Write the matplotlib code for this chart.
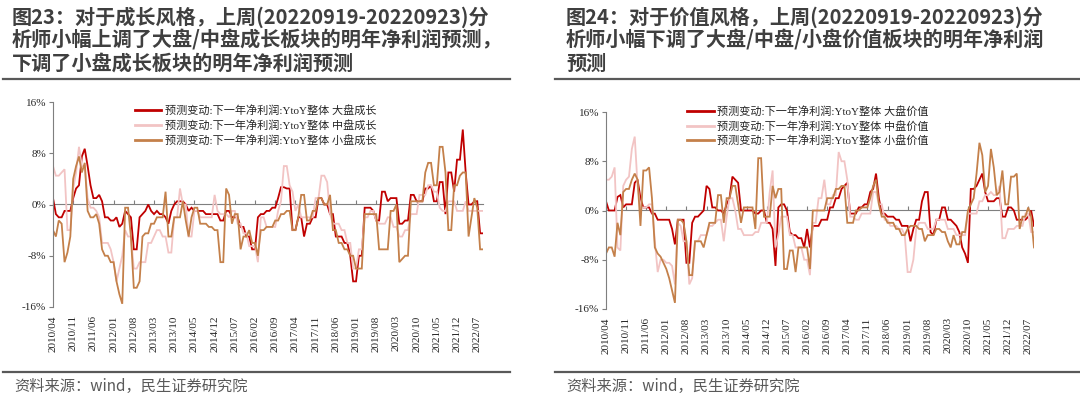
import numpy as np
import matplotlib
matplotlib.use('Agg')
import matplotlib.pyplot as plt
from matplotlib.lines import Line2D
from matplotlib.ticker import FuncFormatter

# ---------------- data ----------------
dates = [f"{2010 + (3 + i) // 12}/{(3 + i) % 12 + 1:02d}" for i in range(150)]  # 2010/04 .. 2022/09
tick_labels = ['2010/04', '2010/11', '2011/06', '2012/01', '2012/08', '2013/03', '2013/10',
               '2014/05', '2014/12', '2015/07', '2016/02', '2016/09', '2017/04', '2017/11',
               '2018/06', '2019/01', '2019/08', '2020/03', '2020/10', '2021/05', '2021/12', '2022/07']

growth_labels = ['预测变动:下一年净利润:YtoY整体 大盘成长',
                 '预测变动:下一年净利润:YtoY整体 中盘成长',
                 '预测变动:下一年净利润:YtoY整体 小盘成长']
value_labels = ['预测变动:下一年净利润:YtoY整体 大盘价值',
                '预测变动:下一年净利润:YtoY整体 中盘价值',
                '预测变动:下一年净利润:YtoY整体 小盘价值']

large_growth = [
    1.0, -1.5, -2.0, -2.0, -1.0, -1.0, -1.0, 1.0, 2.5, 3.0,
    7.5, 8.7, 6.0, 3.0, 1.0, 1.0, 1.5, 0.5, -2.0, -2.0,
    -2.5, -2.5, -2.0, -3.5, -3.0, -1.0, -1.5, -2.0, -7.0, -7.0,
    -2.0, -1.5, -1.0, 0.0, -1.0, -1.5, -1.0, -1.5, -1.5, -2.0,
    -3.0, -1.0, 0.0, 0.5, 0.5, 0.5, 0.0, -1.0, -0.5, -1.0,
    -1.0, -1.0, -1.0, -1.5, -1.5, -1.5, -1.5, -1.5, -2.5, -2.5,
    -1.0, -1.0, -2.0, -2.0, -2.0, -3.5, -3.5, -5.0, -5.0, -7.0,
    -7.0, -2.0, -1.5, -1.5, -1.0, -1.0, -0.5, -0.5, 1.0, 2.7,
    2.7, 2.5, 2.5, -4.0, -4.0, -2.0, -2.0, -5.0, -3.0, -3.0,
    -2.0, -2.0, 1.0, 1.0, 0.0, 0.0, -1.5, -1.5, -5.0, -5.0,
    -5.0, -6.0, -6.0, -8.0, -12.0, -12.0, -8.0, -8.0, -0.5, -0.5,
    -0.5, -1.0, -2.5, -2.5, 2.0, 2.0, 0.5, 1.0, 1.0, 1.0,
    -3.0, -3.0, -2.5, -2.5, 1.5, 1.5, 0.5, 0.5, 0.5, 2.5,
    2.5, 3.0, 0.5, 0.5, 3.5, 3.5, -1.5, 5.0, 5.0, 2.0,
    7.0, 7.0, 11.7, 5.0, 0.0, 0.0, 0.5, 0.5, -4.5, -4.5]

mid_growth = [
    6.0, 4.5, 4.5, 5.0, 5.5, -4.0, -4.0, 2.5, 5.0, 9.0,
    6.0, 6.0, 1.0, -0.5, -0.5, -1.0, -2.0, -6.0, -6.0, -6.0,
    -7.0, -9.0, -12.0, -10.0, -8.0, -4.0, -5.0, -5.0, -10.0, -10.0,
    -9.0, -9.0, -9.0, -6.0, -6.0, -5.0, -4.0, -4.0, -5.0, -5.0,
    -7.5, -7.5, -2.0, -2.0, 2.5, 0.0, 0.0, -5.0, -5.0, -1.0,
    -1.0, -2.0, -2.0, -2.0, -2.0, -2.0, 1.5, -1.0, -1.5, -1.5,
    -1.5, -2.0, -1.0, -1.0, -3.0, -3.0, -4.5, -4.5, -6.5, -6.5,
    -6.5, -9.0, -2.0, -2.0, -3.5, -3.5, -3.5, -3.5, -1.0, 0.5,
    6.0, 6.0, 3.0, 2.0, -1.0, 0.0, -2.0, -2.0, -2.0, -2.0,
    -2.0, 1.0, 1.0, 4.5, 4.5, 3.5, -1.5, -3.0, -3.0, -3.0,
    -4.0, -4.0, -6.0, -6.0, -10.0, -10.0, -7.0, -7.0, -2.0, -2.0,
    -1.0, -1.0, -2.5, -3.0, -3.0, -3.0, -2.0, -2.0, -3.5, -3.5,
    -5.0, -5.0, -4.0, -4.0, -1.5, -1.5, -1.5, 1.5, 1.5, 1.5,
    3.0, 3.0, 2.0, 2.0, -0.5, -1.0, -1.0, 0.5, 0.5, 0.5,
    -1.0, -1.0, -1.0, 0.5, -1.0, -1.0, -1.0, -1.0, -1.0, -1.0]

small_growth = [
    -4.0, -5.0, -2.5, -3.0, -9.0, -7.5, -5.0, 4.0, 6.0, 7.5,
    5.0, 6.5, -1.0, -2.0, -2.0, -1.5, -3.0, -7.0, -8.0, -8.0,
    -9.0, -9.0, -12.0, -14.0, -15.5, -0.5, -0.5, -5.0, -13.0, -13.0,
    -12.0, -5.0, -4.5, -4.5, -3.0, -3.0, -2.0, -2.0, -2.0, 2.0,
    -5.0, -5.0, -2.0, -2.0, -2.0, 0.5, -2.5, -5.0, -2.0, -0.5,
    -0.5, -3.0, -3.0, -3.0, -3.5, -3.5, -4.0, -4.0, -9.0, -9.0,
    2.5, 1.5, -3.0, -1.5, -1.5, -7.0, -5.0, -5.0, -4.0, -6.0,
    -6.0, -8.0, -4.0, -4.0, -3.5, -3.5, -3.5, -2.5, -2.5, -1.5,
    -1.5, -1.0, -1.0, -4.0, -4.0, -2.0, 1.5, 1.5, -2.5, -2.5,
    -1.0, -1.0, 1.0, 1.0, 0.0, 0.0, 1.5, -4.0, -4.0, -6.0,
    -6.0, -7.0, -7.0, -8.0, -8.0, -10.0, -10.0, -10.0, -1.5, -1.5,
    -1.5, -1.5, -1.5, -7.0, -7.0, -7.0, -7.0, -1.0, -1.0, 0.0,
    -9.0, -8.5, -8.0, -8.0, 0.5, 0.5, 0.5, 0.5, 0.5, 5.0,
    6.5, 6.5, 3.0, 3.0, 9.0, 9.0, 5.0, -4.0, -4.0, 3.0,
    3.0, 4.5, 5.0, 5.0, -5.0, -2.0, 1.0, -0.5, -7.0, -7.0]

large_value = [
    1.5, 0.0, 0.0, 0.0, 2.2, 2.5, 0.5, 1.0, 1.0, 1.0,
    4.5, 5.0, 2.0, 0.5, 0.5, 0.5, -0.5, -0.5, -1.5, -1.5,
    -1.5, -1.5, -1.5, -3.0, -5.5, -1.5, -1.5, -1.5, -8.5, -8.5,
    -2.0, -1.0, -1.0, -0.5, 0.0, 4.0, 3.5, 0.5, 0.5, 0.0,
    0.0, -0.5, 1.0, 2.0, 5.5, 5.0, 4.5, 0.0, 0.0, 0.0,
    0.0, 0.0, -0.5, -0.5, 0.0, 0.0, -2.0, -2.0, -3.0, -9.0,
    0.5, 1.0, 1.0, 0.0, -3.5, -4.0, -4.0, -4.5, -4.5, -6.0,
    -3.0, -6.0, -2.5, -2.5, -2.5, -1.5, -1.5, -1.5, 0.5, 0.5,
    2.0, 2.0, 3.5, 4.0, 4.5, -0.5, -0.5, -0.5, 0.5, 0.5,
    1.0, 1.0, 3.0, 3.5, 6.0, 2.0, -0.5, -0.5, -1.0, -1.0,
    -1.0, -1.5, -1.5, -2.5, -2.5, -2.5, -5.0, -3.0, -1.5, -1.5,
    1.5, 3.0, 3.0, -3.5, -4.0, -1.5, -1.5, 0.5, 0.5, -1.5,
    -1.5, -2.0, -2.5, -3.5, -6.0, -7.0, -8.5, 3.5, 3.5, 4.0,
    5.0, 6.0, 3.0, 1.5, 1.5, 1.5, 2.0, 2.0, -1.0, -1.0,
    0.5, 0.5, 0.0, -1.5, -1.5, -1.5, -1.5, -1.0, 0.0, -2.5]

mid_value = [
    5.0, 5.0, 5.5, 7.0, -6.0, -6.5, 4.0, 5.0, 5.5, 10.0,
    12.0, 4.0, 0.5, 0.5, 0.5, 1.0, 1.0, -5.0, -10.0, -8.0,
    -8.0, -8.5, -8.5, -9.0, -12.0, -2.0, -2.5, -5.0, -5.0, -12.0,
    -11.0, -5.0, -5.0, -4.0, -4.0, -4.0, -2.5, -2.5, -2.0, -1.5,
    -1.5, -5.0, -1.0, 2.0, 2.0, 0.0, -3.0, -3.0, -4.0, -4.0,
    -4.0, -4.0, -3.5, -3.5, -2.0, -2.0, -2.0, 3.0, 6.5, -6.0,
    -4.0, -1.0, -1.0, -1.0, -4.0, -4.0, -6.0, -6.0, -6.0, -8.0,
    -8.0, -10.5, -2.0, -2.0, 2.0, 2.0, 5.0, 1.0, 1.0, 2.5,
    2.5, 9.5, 8.0, 8.0, 5.0, -1.0, -1.0, -1.5, -1.5, -0.5,
    -0.5, -0.5, -0.5, 3.0, 3.0, 1.0, 1.0, -1.5, -1.5, -2.5,
    -2.5, -2.5, -3.0, -3.0, -4.0, -10.0, -10.0, -8.0, -3.0, -2.0,
    -2.0, -2.0, -3.0, -3.0, -3.0, -1.5, -1.5, -1.5, -1.5, -3.0,
    -3.0, -3.0, -4.0, -4.0, -4.0, -4.0, -0.5, -0.5, -0.5, -0.5,
    1.5, 1.5, 2.5, 2.5, 3.0, 2.5, 2.5, 4.0, -4.5, -4.5,
    -3.0, -3.0, -3.0, -2.5, -2.5, -2.5, -0.5, -0.5, -3.5, -3.5]

small_value = [
    -7.0, -6.0, -6.0, -7.5, -2.0, -4.0, 3.0, 3.5, 3.5, 5.0,
    6.0, 5.0, -2.5, 6.5, 6.5, 7.0, 2.0, -6.0, -7.0, -7.5,
    -8.5, -9.5, -11.0, -13.0, -15.0, -1.5, -1.5, -2.0, -5.0, -10.5,
    -10.5, -5.0, -5.0, -5.0, -6.0, -4.0, -2.0, -2.0, -2.0, 2.5,
    2.5, -2.0, 2.0, 2.0, 4.0, 4.0, 1.0, -2.0, 0.5, 0.5,
    0.5, 0.5, -3.0, 8.5, 8.5, -1.0, -1.0, -1.0, 4.0, 2.0,
    3.5, 3.5, -9.5, -9.5, -6.5, -6.5, -10.0, -6.0, -6.0, -6.0,
    -6.0, -9.5, 0.0, 0.0, 0.0, 0.0, 0.0, 2.0, 2.0, 2.0,
    3.5, 3.5, 4.0, 4.0, -2.0, -2.0, -2.0, 0.0, 0.0, 0.5,
    0.5, 0.5, 2.0, 4.0, 5.0, 1.0, -1.0, -1.0, -2.0, -2.0,
    -2.0, -3.0, -3.0, -4.0, -4.0, -3.0, -2.5, -2.5, -2.5, -3.0,
    -3.0, -5.0, -4.0, -4.0, -4.0, -3.0, -3.0, -3.5, -3.5, -5.0,
    -6.0, -4.0, -5.5, -5.5, -3.5, -3.5, 0.0, 1.0, 2.0, 6.0,
    11.0, 9.0, 3.0, 4.0, 10.0, 7.0, 2.5, 3.0, 6.5, 1.0,
    1.0, 5.5, 5.5, 6.0, -3.0, -1.0, -1.0, 0.5, -1.0, -6.0]

colors = ['#C00000', '#F2C4C4', '#C4804A']

# ---------------- figure ----------------
plt.rcParams['font.family'] = ['Liberation Serif', 'Noto Sans CJK SC', 'DejaVu Sans']
fig = plt.figure(figsize=(10.8, 3.99), dpi=100)
W, H = 1080.0, 399.0

x = np.arange(len(dates))
tick_pos = [dates.index(t) for t in tick_labels]


def draw_panel(rect, series, labels, leg_anchor):
    ax = fig.add_axes(rect)
    for vals, c, lab in zip(series, colors, labels):
        ax.plot(x, vals, color=c, lw=1.3, label=lab, solid_joinstyle='miter')
    ax.set_xlim(0, len(dates) - 1)
    ax.set_ylim(-16, 16)
    ax.set_yticks([-16, -8, 0, 8, 16])
    ax.yaxis.set_major_formatter(FuncFormatter(lambda v, p: f'{v:.0f}%'))
    for s in ['top', 'right', 'bottom']:
        ax.spines[s].set_visible(False)
    ax.spines['left'].set_color('#7f7f7f')
    ax.spines['left'].set_linewidth(0.8)
    ax.tick_params(axis='y', direction='out', length=3, width=0.8, color='#7f7f7f',
                   labelsize=8, pad=2, labelcolor='#262626')
    ax.set_xticks(tick_pos)
    ax.set_xticklabels(tick_labels, rotation=90)
    ax.tick_params(axis='x', length=0, labelsize=8, pad=6, labelcolor='#262626')
    zero = ax.secondary_xaxis(0.5)
    zero.set_xticks(tick_pos)
    zero.set_xticklabels([])
    zero.tick_params(length=3, width=0.8, color='#7f7f7f')
    for sp in zero.spines.values():
        sp.set_color('#7f7f7f')
        sp.set_linewidth(0.8)
    leg = ax.legend(loc='upper left', bbox_to_anchor=leg_anchor, frameon=False, fontsize=8,
                    handlelength=2.4, handletextpad=0.3, labelspacing=0.35,
                    borderpad=0, borderaxespad=0, labelcolor='#262626')
    for ln in leg.get_lines():
        ln.set_linewidth(2.0)
    return ax


draw_panel([53 / W, 1 - 307 / H, 430 / W, 205 / H],
           [large_growth, mid_growth, small_growth], growth_labels, (0.19, 0.985))
draw_panel([606 / W, 1 - 309 / H, 428 / W, 197 / H],
           [large_value, mid_value, small_value], value_labels, (0.19, 1.03))

title_kw = dict(family=['Noto Sans CJK SC', 'DejaVu Sans'], fontsize=14.5, fontweight='bold',
                color='#3f3f3f', va='center', ha='left')
left_title = ['图23：对于成长风格，上周(20220919-20220923)分',
              '析师小幅上调了大盘/中盘成长板块的明年净利润预测，',
              '下调了小盘成长板块的明年净利润预测']
right_title = ['图24：对于价值风格，上周(20220919-20220923)分',
               '析师小幅下调了大盘/中盘/小盘价值板块的明年净利润',
               '预测']
for i, (lt, rt) in enumerate(zip(left_title, right_title)):
    y = 1 - (17 + 23 * i) / H
    fig.text(12 / W, y, lt, **title_kw)
    fig.text(566 / W, y, rt, **title_kw)

for (x0, x1) in [(3, 510), (555, 1080)]:
    for yy in [79, 372]:
        fig.add_artist(Line2D([x0 / W, x1 / W], [1 - yy / H, 1 - yy / H],
                              transform=fig.transFigure, color='#595959', lw=1.6))

src_kw = dict(family=['Noto Sans CJK SC', 'DejaVu Sans'], fontsize=11, color='#595959',
              va='center', ha='left')
fig.text(14 / W, 1 - 386 / H, '资料来源：wind，民生证券研究院', **src_kw)
fig.text(566 / W, 1 - 386 / H, '资料来源：wind，民生证券研究院', **src_kw)

fig.savefig('out.png', dpi=100)
